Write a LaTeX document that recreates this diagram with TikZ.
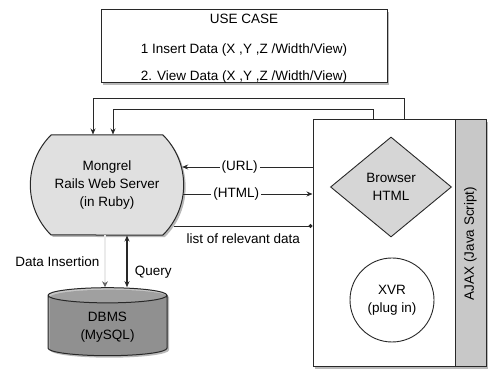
\documentclass[tikz,border=0pt]{standalone}
\usepackage{fontspec}
\setmainfont{Liberation Sans}
\usepackage{tikz}
\usetikzlibrary{arrows.meta,calc,positioning,shapes.geometric,shapes.misc,shadows}
\definecolor{boxline}{RGB}{40,40,40}
\definecolor{srvfill}{RGB}{224,224,224}
\definecolor{brwfill}{RGB}{214,214,214}
\definecolor{ajaxfill}{RGB}{200,200,200}
\definecolor{dbbody}{RGB}{165,165,165}
\definecolor{dbtop}{RGB}{200,200,200}

\begin{document}
\begin{tikzpicture}[x=1pt,y=1pt,>=Stealth,font=\fontsize{13.5}{18}\selectfont,
  boxshadow/.style={drop shadow={shadow xshift=2pt,shadow yshift=-2pt,opacity=.55}},
  box/.style={draw=boxline,line width=1pt,fill=white,inner sep=0pt},
  link/.style={draw=boxline,line width=0.9pt,-{Stealth[length=6pt,width=5pt]}},
  lbl/.style={fill=white,inner sep=2pt}]
  \useasboundingbox (0,0) rectangle (492,369);
  % use case box
  \node[box,boxshadow,minimum width=286,minimum height=73] (usecase) at (244,322.5) {};
  \node (uctitle) at (244,350) {USE CASE};
  \node (ucone) at (244,319) {1 Insert Data (X ,Y ,Z /Width/View)};
  \node (uctwo) at (244,292) {2. View Data (X ,Y ,Z /Width/View)};
  % browser side
  \node[box,boxshadow,minimum width=173,minimum height=247] (browser) at (399.5,125.5) {};
  \node[draw=boxline,line width=1pt,fill=ajaxfill,rotate=90,minimum width=247,minimum height=31,inner sep=0pt] (ajax) at (470.5,125.5) {AJAX (Java Script)};
  \node[diamond,draw=boxline,line width=0.9pt,fill=brwfill,minimum width=121,minimum height=100,inner sep=0pt,align=center] (html) at (391,182) {Browser\\HTML};
  \node[circle,draw=boxline,line width=0.9pt,minimum size=84,align=center] (xvr) at (392,69) {XVR\\(plug in)};
  % server and database
  \node[rounded rectangle,rounded rectangle arc length=90,draw=boxline,line width=1pt,fill=srvfill,boxshadow,minimum width=160,minimum height=100,align=center] (server) at (107,184) {Mongrel\\Rails Web Server\\(in Ruby)};
  \node[cylinder,shape border rotate=90,aspect=0.25,draw=boxline,line width=1pt,cylinder uses custom fill,cylinder body fill=dbbody,cylinder end fill=dbtop,boxshadow,minimum width=119,minimum height=68,align=center] (dbms) at (107.5,42) {DBMS\\(MySQL)};
  % feedback rails
  \coordinate (railA) at (93,271); \coordinate (railB) at (113,260);
  \draw[link] ($(browser.north west)+(92,0)$) |- (railA) -- (server.north -| railA);
  \draw[link] ($(browser.north west)+(61,0)$) |- (railB) -- (server.north -| railB);
  % requests
  \coordinate (urly) at (0,202); \coordinate (htmly) at (0,175); \coordinate (listy) at (0,143);
  \draw[link] (browser.west |- urly) -- ([xshift=-2]server.east |- urly) node[lbl,pos=.56] {(URL)};
  \draw[link] ([xshift=-1]server.east |- htmly) -- (browser.west |- htmly) node[lbl,pos=.41] {(HTML)};
  \draw[link,-{Circle[length=4pt]}] ([xshift=-10]server.east |- listy) -- (browser.west |- listy) node[below=4pt,pos=.5] {list of relevant data};
  % database access
  \coordinate (insx) at (105,0); \coordinate (qryx) at (127,0);
  \draw[draw=black!60,line width=.7pt,double=black!8,double distance=1.2pt,-{Stealth[length=6pt,width=6pt]}] (server.south -| insx) -- (dbms.north -| insx) node[midway,left=2pt] {Data Insertion};
  \draw[link,line width=1.3pt,{Stealth[length=6pt,width=5pt]}-{Stealth[length=6pt,width=5pt]}] (server.south -| qryx) -- (dbms.north -| qryx) node[pos=.7,right=4pt] {Query};
\end{tikzpicture}
\end{document}
